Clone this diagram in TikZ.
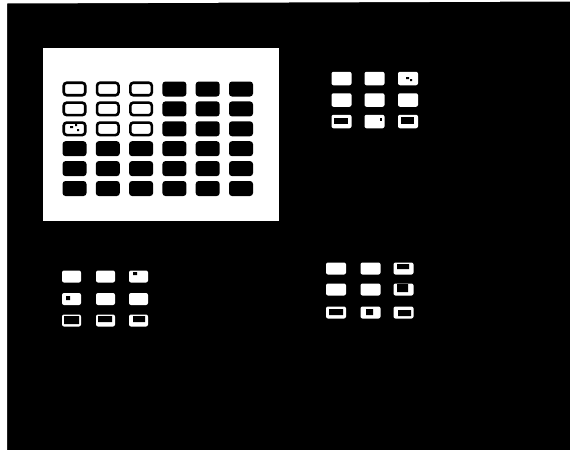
\documentclass[tikz,border=0pt]{standalone}
\begin{document}
\begin{tikzpicture}[x=1pt,y=-1pt,
  blank/.style={rectangle,rounded corners=3pt,inner sep=0pt},
  openbox/.style={blank,fill=white,draw=black,line width=2.6pt,minimum width=21.5pt,minimum height=12.5pt},
  darkbox/.style={blank,fill=black,minimum width=24pt,minimum height=15pt},
  tinybox/.style={blank,rounded corners=2pt,fill=white},
  speck/.style={fill=black}]
\useasboundingbox (0,0) rectangle (570,450);
% background
\fill[black] (0,0) rectangle (570,450);
\fill[white] (0,0) -- (570,0) -- (570,1.5) -- (7,3.5) -- (7,450) -- (0,450) -- cycle;
% main panel
\node[fill=white,minimum width=236pt,minimum height=173pt,inner sep=0pt] (panel) at (161,134.5) {};
\foreach \c in {1,...,6}{
  \foreach \r in {1,...,6}{
    \pgfmathsetmacro{\xx}{74.5+33.3*(\c-1)}
    \pgfmathsetmacro{\yy}{89+19.9*(\r-1)}
    \pgfmathparse{(\c<4 && \r<4) ? 1 : 0}
    \ifnum\pgfmathresult=1
      \node[openbox] (m\c\r) at (\xx,\yy) {};
    \else
      \node[darkbox] (m\c\r) at (\xx,\yy) {};
    \fi
  }
}
% speck in open box
\fill[speck] (70,126) rectangle (73,128) (75,124) rectangle (77,126) (77,129) rectangle (79,131);
% top-right grid
\foreach \c/\xx in {1/341.5,2/374.5,3/408}{
  \foreach \r/\yy in {1/78.5,2/100,3/121.5}{
    \node[tinybox,minimum width=20pt,minimum height=13.5pt] (tr\c\r) at (\xx,\yy) {};
  }
}
\fill[speck] (406,77) rectangle (409,79) (410,79) rectangle (412,81);
\fill[speck] (334,118) rectangle (348,124);
\fill[speck] (380,118) rectangle (382,121);
\fill[speck] (401,117) rectangle (414,124);
% bottom-left grid
\foreach \c/\xx in {1/71.5,2/105.5,3/138.5}{
  \foreach \r/\yy in {1/276.5,2/299,3/320.5}{
    \node[tinybox,minimum width=19pt,minimum height=12pt] (bl\c\r) at (\xx,\yy) {};
  }
}
\fill[speck] (133,272) rectangle (137,275) (66,296) rectangle (70,300);
\fill[speck] (64,316) rectangle (79,324) (98,316) rectangle (112,322) (133,316) rectangle (145,322);
% bottom-right grid
\foreach \c/\xx in {1/336,2/370.5,3/403.5}{
  \foreach \r/\yy in {1/268.5,2/289.5,3/312.5}{
    \node[tinybox,minimum width=20pt,minimum height=12pt] (br\c\r) at (\xx,\yy) {};
  }
}
\fill[speck] (397,264) rectangle (409,269) (397,284) rectangle (408,292);
\fill[speck] (329,309) rectangle (343,315) (366,309) rectangle (373,315) (398,310) rectangle (411,316);
\end{tikzpicture}
\end{document}
